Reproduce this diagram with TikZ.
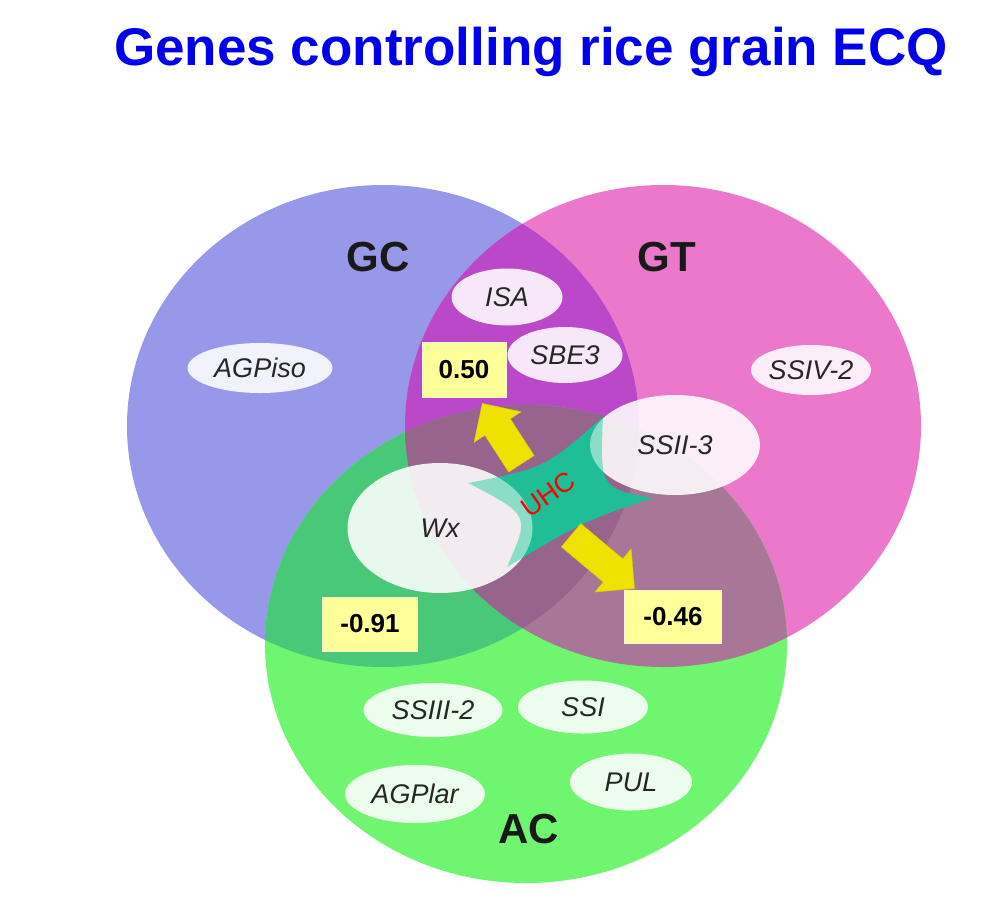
\documentclass[tikz,border=0pt]{standalone}
\usepackage{fontspec}
\setmainfont{Liberation Sans}
\usetikzlibrary{shapes,arrows,positioning,calc}

\definecolor{gccol}{RGB}{152,152,232}
\definecolor{gtcol}{RGB}{236,120,204}
\definecolor{accol}{RGB}{112,245,112}
\definecolor{gcgtcol}{RGB}{186,72,200}
\definecolor{gcaccol}{RGB}{72,200,120}
\definecolor{gtaccol}{RGB}{168,118,150}
\definecolor{allcol}{RGB}{150,100,140}
\definecolor{uhcteal}{RGB}{32,190,150}
\definecolor{boxyel}{RGB}{255,255,153}
\definecolor{boxedge}{RGB}{245,245,215}
\definecolor{arrowyel}{RGB}{240,226,0}
\definecolor{arrowedge}{RGB}{215,200,0}
\definecolor{titleblue}{RGB}{0,0,235}

\newcommand{\gcset}{(383,426) ellipse [x radius=256pt, y radius=241pt]}
\newcommand{\gtset}{(663,426) ellipse [x radius=258pt, y radius=241pt]}
\newcommand{\acset}{(526,644) ellipse [x radius=261pt, y radius=239pt]}
\newcommand{\uhcshape}{(468,483) .. controls (545,468) .. (603,417) .. controls (600,488) .. (652,498) .. controls (582,522) .. (507,567) .. controls (530,515) .. (468,483) -- cycle}

\begin{document}
\begin{tikzpicture}[x=1pt,y=-1pt]
  \tikzstyle{gene} = [ellipse, fill=white, fill opacity=0.88, text opacity=1, inner sep=0pt, text=black!85, font=\fontsize{27}{30}\selectfont\itshape]
  \tikzstyle{value} = [rectangle, draw=boxedge, line width=1pt, fill=boxyel, inner sep=0pt, font=\fontsize{26}{30}\selectfont\bfseries]
  \tikzstyle{setname} = [text=black!90, font=\fontsize{42}{48}\selectfont\bfseries]
  \tikzstyle{fatarrow} = [single arrow, draw=arrowedge, fill=arrowyel, inner xsep=0pt, inner ysep=15pt, single arrow head extend=13pt, minimum height=72pt]

  \useasboundingbox (0,0) rectangle (982,908);

  % the three sets
  \fill[gccol] \gcset;
  \fill[gtcol] \gtset;
  \fill[accol] \acset;
  \begin{scope}
    \clip \gcset;
    \fill[gcgtcol] \gtset;
    \fill[gcaccol] \acset;
  \end{scope}
  \begin{scope}
    \clip \gtset;
    \fill[gtaccol] \acset;
    \clip \gcset;
    \fill[allcol] \acset;
  \end{scope}
  \fill[uhcteal] \uhcshape;

  \node[titleblue, font=\fontsize{53}{60}\selectfont\bfseries] (title) at (531,52) {Genes controlling rice grain ECQ};

  \node[setname] (gc) at (378,257) {GC};
  \node[setname] (gt) at (667,257) {GT};
  \node[setname] (ac) at (529,829) {AC};

  % genes
  \node[gene, minimum width=111pt, minimum height=57pt] (isa) at (507,297) {ISA};
  \node[gene, minimum width=115pt, minimum height=56pt] (sbe) at (565,355) {SBE3};
  \node[gene, minimum width=145pt, minimum height=50pt] (agpiso) at (260,368) {AGPiso};
  \node[gene, minimum width=120pt, minimum height=50pt] (ssiv) at (811,370) {SSIV-2};
  \node[gene, minimum width=170pt, minimum height=100pt] (ssii) at (675,445) {SSII-3};
  \node[gene, minimum width=185pt, minimum height=130pt] (wx) at (440,528) {Wx};
  \node[gene, minimum width=139pt, minimum height=54pt] (ssiii) at (433,710) {SSIII-2};
  \node[gene, minimum width=130pt, minimum height=53pt] (ssi) at (583,707) {SSI};
  \node[gene, minimum width=140pt, minimum height=58pt] (agplar) at (415,794) {AGPlar};
  \node[gene, minimum width=122pt, minimum height=57pt] (pul) at (631,782) {PUL};

  \fill[uhcteal, opacity=.45] \uhcshape;
  \node[text=red, rotate=35, font=\fontsize{27}{30}\selectfont] (uhc) at (548,494) {UHC};

  % correlations
  \node[value, minimum width=84pt, minimum height=55pt] (v050) at (464,370) {0.50};
  \node[value, minimum width=95pt, minimum height=54pt] (v091) at (370,624) {-0.91};
  \node[value, minimum width=97pt, minimum height=53pt] (v046) at (673,617) {-0.46};

  \node[fatarrow, rotate=123] (toup) at (506,440) {};
  \node[fatarrow, rotate=-40, minimum height=83pt] (todown) at (597,557) {};
\end{tikzpicture}
\end{document}
